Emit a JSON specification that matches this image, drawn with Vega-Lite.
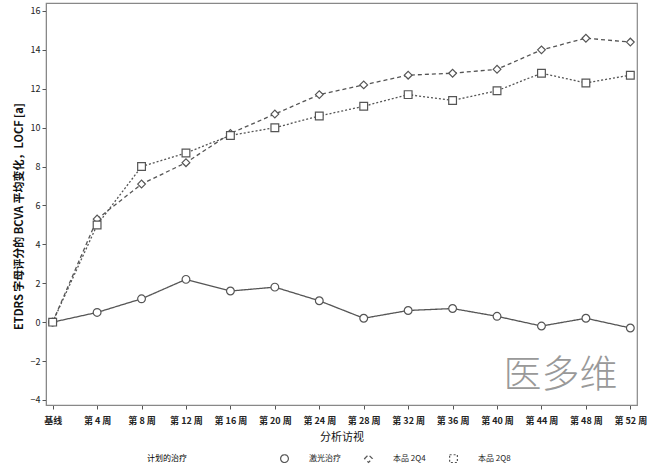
{
  "$schema": "https://vega.github.io/schema/vega-lite/v6.json",
  "width": 591,
  "height": 402,
  "autosize": "none",
  "padding": {"left": 46, "top": 3, "right": 29, "bottom": 67},
  "config": {
    "font": "Noto Sans CJK SC",
    "view": {"stroke": "#888", "strokeWidth": 1.2},
    "axis": {"domainColor": "#888", "tickColor": "#555", "labelColor": "#222", "titleColor": "#111", "grid": false}
  },
  "data": {
    "values": [
      {"visit": "基线", "group": "激光治疗", "value": 0},
      {"visit": "第 4 周", "group": "激光治疗", "value": 0.5},
      {"visit": "第 8 周", "group": "激光治疗", "value": 1.2},
      {"visit": "第 12 周", "group": "激光治疗", "value": 2.2},
      {"visit": "第 16 周", "group": "激光治疗", "value": 1.6},
      {"visit": "第 20 周", "group": "激光治疗", "value": 1.8},
      {"visit": "第 24 周", "group": "激光治疗", "value": 1.1},
      {"visit": "第 28 周", "group": "激光治疗", "value": 0.2},
      {"visit": "第 32 周", "group": "激光治疗", "value": 0.6},
      {"visit": "第 36 周", "group": "激光治疗", "value": 0.7},
      {"visit": "第 40 周", "group": "激光治疗", "value": 0.3},
      {"visit": "第 44 周", "group": "激光治疗", "value": -0.2},
      {"visit": "第 48 周", "group": "激光治疗", "value": 0.2},
      {"visit": "第 52 周", "group": "激光治疗", "value": -0.3},
      {"visit": "基线", "group": "本品 2Q4", "value": 0},
      {"visit": "第 4 周", "group": "本品 2Q4", "value": 5.3},
      {"visit": "第 8 周", "group": "本品 2Q4", "value": 7.1},
      {"visit": "第 12 周", "group": "本品 2Q4", "value": 8.2},
      {"visit": "第 16 周", "group": "本品 2Q4", "value": 9.7},
      {"visit": "第 20 周", "group": "本品 2Q4", "value": 10.7},
      {"visit": "第 24 周", "group": "本品 2Q4", "value": 11.7},
      {"visit": "第 28 周", "group": "本品 2Q4", "value": 12.2},
      {"visit": "第 32 周", "group": "本品 2Q4", "value": 12.7},
      {"visit": "第 36 周", "group": "本品 2Q4", "value": 12.8},
      {"visit": "第 40 周", "group": "本品 2Q4", "value": 13.0},
      {"visit": "第 44 周", "group": "本品 2Q4", "value": 14.0},
      {"visit": "第 48 周", "group": "本品 2Q4", "value": 14.6},
      {"visit": "第 52 周", "group": "本品 2Q4", "value": 14.4},
      {"visit": "基线", "group": "本品 2Q8", "value": 0},
      {"visit": "第 4 周", "group": "本品 2Q8", "value": 5.0},
      {"visit": "第 8 周", "group": "本品 2Q8", "value": 8.0},
      {"visit": "第 12 周", "group": "本品 2Q8", "value": 8.7},
      {"visit": "第 16 周", "group": "本品 2Q8", "value": 9.6},
      {"visit": "第 20 周", "group": "本品 2Q8", "value": 10.0},
      {"visit": "第 24 周", "group": "本品 2Q8", "value": 10.6},
      {"visit": "第 28 周", "group": "本品 2Q8", "value": 11.1},
      {"visit": "第 32 周", "group": "本品 2Q8", "value": 11.7},
      {"visit": "第 36 周", "group": "本品 2Q8", "value": 11.4},
      {"visit": "第 40 周", "group": "本品 2Q8", "value": 11.9},
      {"visit": "第 44 周", "group": "本品 2Q8", "value": 12.8},
      {"visit": "第 48 周", "group": "本品 2Q8", "value": 12.3},
      {"visit": "第 52 周", "group": "本品 2Q8", "value": 12.7}
    ]
  },
  "encoding": {
    "x": {
      "field": "visit",
      "type": "ordinal",
      "sort": ["基线", "第 4 周", "第 8 周", "第 12 周", "第 16 周", "第 20 周", "第 24 周", "第 28 周", "第 32 周", "第 36 周", "第 40 周", "第 44 周", "第 48 周", "第 52 周"],
      "scale": {"type": "point", "padding": 0.15},
      "title": "分析访视",
      "axis": {"labelAngle": 0, "labelFontSize": 9, "labelFontWeight": "bold", "labelPadding": 7, "tickSize": 4, "titleFontSize": 11, "titleFontWeight": "normal", "titlePadding": 6}
    },
    "y": {
      "field": "value",
      "type": "quantitative",
      "scale": {"domain": [-4.26, 16.41], "nice": false, "zero": false},
      "title": "ETDRS 字母评分的 BCVA 平均变化，LOCF [a]",
      "axis": {"values": [-4, -2, 0, 2, 4, 6, 8, 10, 12, 14, 16], "labelFontSize": 9, "labelPadding": 2, "tickSize": 4, "titleFontSize": 11, "titleFontWeight": "bold", "titlePadding": 6, "titleY": 213}
    }
  },
  "layer": [
    {
      "mark": {"type": "line", "color": "#555", "strokeWidth": 1.3},
      "encoding": {
        "detail": {"field": "group"},
        "strokeDash": {
          "field": "group",
          "type": "nominal",
          "scale": {"domain": ["激光治疗", "本品 2Q4", "本品 2Q8"], "range": [[1, 0], [4, 3], [2, 2]]},
          "legend": {
            "title": "计划的治疗",
            "orient": "none",
            "legendX": 101,
            "legendY": 451,
            "direction": "horizontal",
            "titleOrient": "left",
            "titleFontSize": 8,
            "titleFontWeight": "normal",
            "titlePadding": 93,
            "labelFontSize": 8,
            "labelColor": "#222",
            "symbolSize": 60,
            "symbolFillColor": "white",
            "symbolStrokeColor": "#555",
            "symbolStrokeWidth": 1.2,
            "columnPadding": 21,
            "labelOffset": 20
          }
        }
      }
    },
    {
      "mark": {"type": "point", "filled": true, "fill": "white", "stroke": "#555", "strokeWidth": 1.2, "size": 60, "opacity": 1},
      "encoding": {
        "shape": {
          "field": "group",
          "type": "nominal",
          "scale": {"domain": ["激光治疗", "本品 2Q4", "本品 2Q8"], "range": ["circle", "diamond", "square"]},
          "legend": null
        }
      }
    },
    {
      "data": {"values": [{"visit": "第 44 周", "value": -2.75, "label": "医多维"}]},
      "mark": {"type": "text", "fontSize": 38, "color": "#999", "dx": 19, "font": "Noto Sans CJK SC", "fontWeight": 300},
      "encoding": {
        "text": {"field": "label"}
      }
    }
  ]
}
